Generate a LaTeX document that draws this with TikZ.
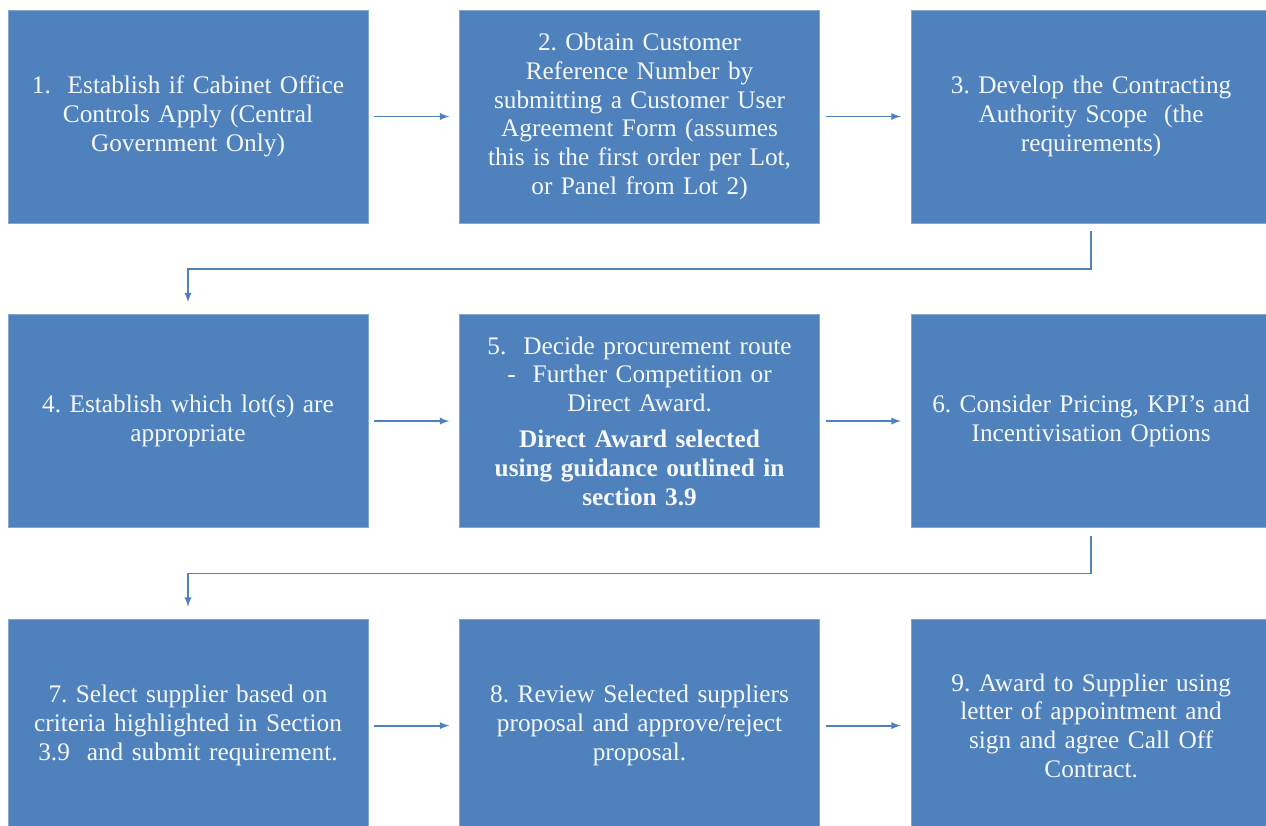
\documentclass[tikz,border=0pt]{standalone}
\usepackage{fontspec}
\setmainfont{Liberation Serif}
\usepackage{tikz}
\usetikzlibrary{arrows,positioning}

\definecolor{stepblue}{HTML}{4F81BD}
\frenchspacing

\begin{document}
\begin{tikzpicture}[>=latex,
            node distance=2.275cm,
            box/.style={rectangle,fill=stepblue,draw=stepblue!70!white,
                        line width=0.4pt,text=white!95!stepblue,
                        minimum width=9cm,minimum height=5.325cm,
                        text width=8.6cm,align=center,inner sep=0pt,
                        font=\fontsize{18}{20.5}\selectfont},
            flow/.style={->,draw=stepblue,line width=1.3pt,
                         shorten <=0.15cm,shorten >=0.25cm}]

        \useasboundingbox (0,0) rectangle (31.65,-20.65);

        \node[box] (s1) at (4.7,-2.9125) {1.\ \ Establish if Cabinet Office\\ Controls Apply (Central\\ Government Only)};
        \node[box] (s2) [right=of s1] {2. Obtain Customer\\ Reference Number by\\ submitting a Customer User\\ Agreement Form (assumes\\ this is the first order per Lot,\\ or Panel from Lot 2)};
        \node[box] (s3) [right=of s2] {3. Develop the Contracting\\ Authority Scope\ \ (the\\ requirements)};
        \node[box] (s4) [below=of s1] {4. Establish which lot(s) are\\ appropriate};
        \node[box] (s5) [right=of s4] {5.\ \ Decide procurement route\\ -\ \ Further Competition or\\ Direct Award.\\[5pt] \textbf{Direct Award selected}\\ \textbf{using guidance outlined in}\\ \textbf{section 3.9}};
        \node[box] (s6) [right=of s5] {6. Consider Pricing, KPI's and\\ Incentivisation Options};
        \node[box] (s7) [below=of s4] {7. Select supplier based on\\ criteria highlighted in Section\\ 3.9\ \ and submit requirement.};
        \node[box] (s8) [right=of s7] {8. Review Selected suppliers\\ proposal and approve/reject\\ proposal.};
        \node[box] (s9) [right=of s8] {9. Award to Supplier using\\ letter of appointment and\\ sign and agree Call Off\\ Contract.};

        \path (s1) edge [flow] (s2)
              (s2) edge [flow] (s3)
              (s4) edge [flow] (s5)
              (s5) edge [flow] (s6)
              (s7) edge [flow] (s8)
              (s8) edge [flow] (s9);

        % row changes
        \draw[flow,shorten <=0.2cm,shorten >=0.3cm]
            (s3.south) -- ++(0,-1.14) -| (s4.north);
        \draw[flow,shorten <=0.2cm,shorten >=0.3cm]
            (s6.south) -- ++(0,-1.14) -| (s7.north);

\end{tikzpicture}
\end{document}
